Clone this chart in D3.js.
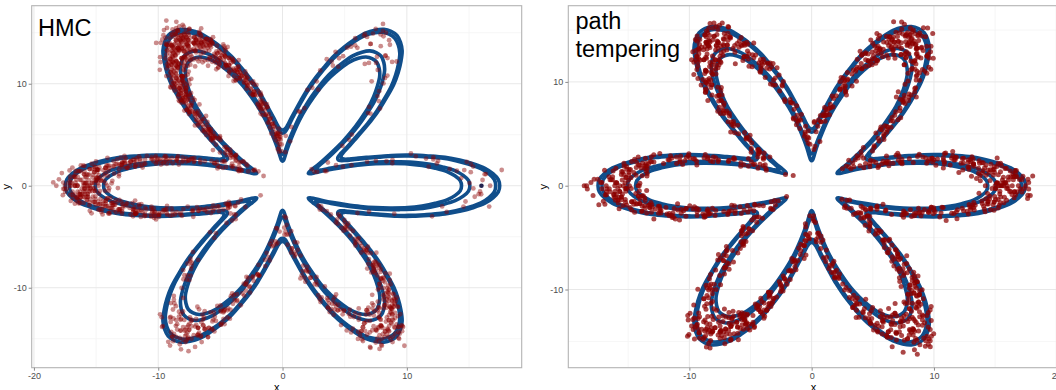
<!DOCTYPE html>
<html>
<head>
<meta charset="utf-8">
<script src="https://cdn.jsdelivr.net/npm/d3@7"></script>
<style>
html,body{margin:0;padding:0;background:#fff;}
svg{display:block;}
text{font-family:"Liberation Sans",Arial,Helvetica,sans-serif;}
</style>
</head>
<body>
<svg id="chart" width="1056" height="390"></svg>
<script>
// ================= DATA =================
const xTicks = [-20, -10, 0, 10, 20];
const yTicks = [-10, 0, 10];
const xMinor = [-25, -15, -5, 5, 15, 25];
const yMinor = [-15, -5, 5, 15];
const panelTitles = [["HMC"], ["path", "tempering"]];

// flower target: six petals, ridge radius read along each petal (angle from petal axis, degrees)
const petalAxes = [0, 60, 120, 180, 240, 300];
const profileAngle = [-30,-28,-26,-24,-22,-20,-18,-16,-14,-12,-10,-8,-6,-4,-2,0,2,4,6,8,10,12,14,16,18,20,22,24,26,28,30];
const profileRadius = [4,4.1,4.5,5.2,6,7,8.2,9.4,10.6,11.9,13,14,14.9,15.5,15.9,16,15.9,15.5,14.9,14,13,11.9,10.6,9.4,8.2,7,6,5.2,4.5,4.1,4];
// contour levels: radial distance from ridge
const contourOffsets = [-1.6, -0.93, 1.15, 1.47];

// ---- HMC samples: angle from petal axis (deg) per petal; radial offset from ridge (tenths) ----
const hmcUL = [
-2,5,-8,1,11,-14,7,-4,17,-10,3,-6,23,0,9,-18,2,-12,14,-1,
6,-21,4,-3,13,-9,20,-5,8,-15,10,-27,1,-7,16,5,-11,25,-2,12,
-16,3,-8,19,0,-13,7,-4,22,-19,2,11,-6,15,-24,4,-1,9,-10,28,
1,-5,13,-17,6,-2,18,-11,3,-7,10,-22,0,14,-9,5,-26,8,-3,21,
-12,2,-6,16,-14,4,-1,11,-20,7,-4,24,-8,1,17,-15,9,-2,12,-29,
3,-10,6,19,-5,0,14,-18,8,-3,26,-13,2,-7,10,-23,5,-1,15,-9,
20,-4,7,-16,1,12,-11,4,-25,9,-6,17,-2,3,-19,13,-8,0,22,-14,
6,-3,11,-21,2,-7,16,-12,5,-1,27,-10,8,-5,14,-17,1,9,-28,4,
-6,18,-13,3,0,12,-9,7,-24,15,-2,5,-16,10,-4,21,-11,2,-8,13,
-20,6,-1,17,-15,4,-7,9,-27,1,11,-3,19,-12,8,-5,24,-18,3,-10,
14,0,-22,7,-6,16,-9,2,-14,10,-2,25,-17,5,-4,12,-26,8,1,-11,
18,-7,3,-13,6,20,-1,-19,9,-5,15,-10,4,28,-3,11,-16,0,7,-23,
2,-8,13,-4,17,-12,5,-20,10,-1,22,-15,6,-6,14,-9,1,26,-25,3,
-2,9,-17,12,-5,4,-11,19,-7,0,15,-21,8,-3,11,-14,23,-8,2,5,
-13,16,-1,7,-28,10,-6,3,-18,13,-9,21,-4,1,-15,6,-10,18,-2,27,
4,-12,8,-24,14,-3,0,-16,11,-7,20,-19,5,-5,17,-11,2,-1,9,-26,
1,-6,9,-13,4,15,-2,7,-19,11,-8,2,21,-4,12,-16,5,-1,18,-10,
0,8,-5,13,-22,3,-9,16,-3,6,-14,10,-27,1,19,-7,4,-12,24,-1,
7,-17,2,12,-6,-20,9,-2,14,-11,5,27,-4,0,-15,11,-8,3,17,-25,
-3,10,-13,6,20,-1,4,-18,8,-7,15,-10,1,23,-5,12,-21,2,-9,5,
16,-14,3,-2,9,-26,13,-6,0,19,-12,7,-4,11,-17,1,25,-8,6,-3,
-11,14,-1,4,-19,8,22,-5,2,-9,12,-15,0,17,-24,6,-2,10,-7,28,
3,-13,7,-4,15,-20,1,11,-6,-28,9,-1,18,-10,5,-16,13,-3,21,-8,
0,6,-12,16,-5,2,-22,10,-2,14,-9,4,26,-14,8,-1,-18,12,-6,3,
19,-4,1,-11,9,-23,6,15,-7,0,-16,11,-3,20,-9,3,-26,13,-1,7,
-8,17,-13,2,10,-5,24,-19,5,-2,12,-10,0,16,-15,8,-4,22,-12,1,
-6,9,-21,14,-1,4,-17,11,-9,27,-3,6,-13,1,18,-7,13,-25,3,-2,
8,-11,20,-4,0,-14,15,-8,5,-19,10,-1,23,-6,2,-12,17,-3,7,-28,
12,-9,3,-16,6,21,-2,-7,14,-22,1,9,-5,16,-13,4,-1,25,-10,11,
-4,2,-18,13,-7,7,19,-12,0,-24,10,-3,15,-9,5,-15,22,-1,8,-6,
17,-20,4,-2,11,-11,1,26,-8,6,-14,13,-5,3,-27,9,-1,20,-16,0,
5,-7,14,-12,2,18,-4,-21,10,-9,7,-1,24,-15,3,-6,12,-19,1,16];
const hmcL = [
0,-4,6,-9,2,11,-6,8,-1,14,-12,4,-3,17,-15,7,-7,1,10,-19,
3,-2,13,-10,5,-22,9,-5,20,0,-13,6,-8,16,2,-17,12,-1,24,-4,
8,-11,1,-25,15,-6,4,-14,10,-3,19,-9,7,-20,0,13,-2,5,-16,22,
-7,11,-1,3,-12,18,-5,9,-27,6,-10,2,15,-18,4,-4,26,-8,12,-14,
1,-3,7,-21,14,-6,0,10,-11,5,-2,21,-15,8,-9,17,-24,3,-1,11,
-5,13,-17,6,-7,2,19,-12,9,-4,28,-10,4,-19,15,-2,7,-13,0,23,
-8,3,12,-23,5,-1,16,-9,10,-14,1,-6,20,-16,8,-3,14,-28,6,-11,
2,18,-5,11,-20,4,-7,9,-2,25,-13,7,-10,0,16,-18,3,-4,12,-26,
6,-8,14,-1,5,-15,10,-3,22,-11,1,-6,17,-21,8,-2,13,-9,4,27,
-12,0,9,-5,19,-17,3,-7,11,-24,6,-1,15,-10,2,-14,21,-4,7,-19,
13,-3,1,-9,24,-13,5,-6,16,0,-16,8,-2,10,-22,4,-8,18,-11,2,
-1,12,-27,6,-4,20,-7,3,-12,9,-18,14,-5,1,26,-10,7,-15,11,-3,
1,-7,4,-2,13,-11,8,-5,16,0,-14,10,-3,6,-19,2,21,-9,11,-1,
-16,5,-4,18,-8,3,-24,12,0,-12,7,-6,23,-2,9,-18,14,1,-10,26,
4,-1,-21,15,-5,8,-13,2,19,-7,0,11,-27,6,-3,14,-15,3,-9,20,
-2,10,-17,5,24,-6,1,-11,13,-4,7,-22,16,0,-8,3,-14,9,-1,28,
12,-5,2,-19,6,-10,17,-3,9,-25,1,14,-7,4,-13,22,-1,7,-16,11,
-4,0,15,-9,3,-20,8,-2,25,-12,5,-6,18,-15,10,-1,2,-23,13,-8,
6,-3,20,-11,1,-17,12,-5,7,0,-26,16,-8,4,-2,11,-14,3,21,-6,
9,-13,0,17,-4,2,-21,14,-9,5,-1,27,-16,8,-7,12,-3,1,-19,10,
-5,15,-10,3,-28,7,19,-2,6,-14,11,-6,0,23,-12,4,-1,16,-22,8,
2,-8,13,-18,5,-3,10,-11,22,-1,7,-24,15,-5,1,-15,9,-2,18,-9,
0,11,-20,4,-6,14,-13,6,-1,26,-10,3,-17,12,-4,8,-26,2,20,-7];
const hmcLL = [
2,6,-1,9,4,0,12,-4,7,3,15,-8,5,10,-2,1,18,-12,8,11,
-5,4,14,0,6,-16,9,2,21,-3,7,13,-9,3,1,17,-20,5,10,-1,
8,24,-6,2,12,-14,6,0,16,-24,4,9,-2,27,11,-7,3,14,-11,5,
1,19,-4,7,-18,10,0,22,-10,6,13,-27,3,8,-3,15,2,-13,11,5,
-8,20,4,-1,9,-22,12,6,-15,1,17,3,-5,7,25,-19,10,0,13,2,
-6,8,4,-2,11,16,5,-9,23,1,
3,7,-2,10,1,5,13,-5,8,0,16,-9,4,11,-3,2,19,-13,6,9,
-6,3,15,-1,7,-17,10,1,22,-4,5,12,-10,2,26,-21,8,0,14,-7,
4,18,-3,9,-12,1,6,23,-15,11,-1,3,17,-25,7,2,-8,13,0,20,
5,-11,10,-2,15,-19,8,1,24,-5,12,3,-14,6,-1,9,21,-23,4,2];
const hmcLR = [
1,-3,5,8,-1,3,11,-6,6,0,14,-9,4,9,-12,2,17,-4,7,-15,
12,0,-2,20,5,-18,10,3,-7,15,-21,8,1,23,-10,6,-5,13,-24,4,
9,-1,18,-13,2,7,-8,26,0,11,-16,5,-3,16,-27,3,10,-6,21,1,
-11,6,14,-2,8,-19,4,12,-4,24,-14,2,9,-9,19,0,-22,7,15,-1,
5,-7,11,3,-17,22,-3,8,-12,1,13,6,-25,17,-5,10,2,-10,27,4,
-20,9,0,15,-8,6,-15,12,3,-2,20,-28,7,1,-13,18,-6,11,5,-23,
14,-1,8,-11,2,25,-4,10,-18,4,16,-9,0,13,-26,6,-3,19,9,-14,
3,-7,12,1,-21,7,22,-5,5,-16,11,0,-10,17,2,-2,28,-12,8,-19,
2,-4,6,9,-2,4,12,-7,5,1,15,-10,3,8,-13,0,18,-5,10,-16,
7,-1,-3,21,4,-19,11,2,-8,14,-22,6,0,24,-11,9,-6,16,-25,3,
10,-2,19,-14,1,8,-9,27,-1,12,-17,4,-4,17,-28,5,11,-7,22,0,
-12,7,13,-3,9,-20,3,15,-5,25,-15,1,10,-10,20,-1,-23,6,16,2,
4,-8,12,1,-18,23,-2,7,-13,0,14,5,-26,18,-6,11,3,-9,26,-4,
-21,8,-1,14,-7,5,-16,13,2,-3,19,-27,6,0,-12,17,-5,10,4,-24,
15,0,9,-10,3,24,-6,11,-19,5,17,-8,1,14,-2,7,-15,20,8,-11];
const hmcUR = [
2,-3,5,0,-6,8,-1,4,-9,11,1,-4,7,-12,14,3,-7,17,-15,6,
-2,20,-18,9,0,12,-10,23,-5,15,-21,2,26,-13,8,-8,10,-25,4,19,
-1,13,-16,6,16,-11,3,22,-20,1,-28,9,18,-3,27,
3,-4,6,-8,12,1,-2,15,-14,9];
const hmcR = [
3,7,-2,10,5,1,12,-4,8,14,0,6,17,-1,11,20,4,-6,9,23,
2,15,-9,13,26,-14,18,-20,7,-3,22,-11,16,-24,5,28,-17,19,-7,25,
4,9,-3,13,6,16,-8,21];
const hmcOffset = [
3,-7,11,-2,5,-12,8,-1,15,-9,0,6,-16,3,-5,19,-2,9,-10,4,
-4,13,-14,1,7,-8,22,-6,0,10,-18,5,-3,12,-11,2,8,-21,6,-2,
1,-9,14,-5,4,-13,7,0,-7,17,-3,9,-15,2,-1,11,-20,6,-4,25,
-6,3,10,-11,0,8,-2,16,-8,5,-14,1,12,-5,7,-24,4,-1,9,-17,
2,-10,6,13,-3,0,-7,18,-12,4,1,-5,10,-16,7,-2,21,-9,3,0,
-13,8,-4,14,-1,5,-19,2,11,-6,0,9,-11,3,-26,6,-3,15,-8,1,
12,-2,4,-15,7,-5,20,-10,1,8,-4,3,-18,10,-1,5,-7,27,-12,2,
-3,6,-9,13,0,-14,4,9,-6,1,17,-20,5,-2,11,-8,2,-11,7,-1,
15,-4,0,8,-17,3,-6,12,-3,6,-22,10,1,-9,4,14,-13,0,-5,19,
-7,2,9,-12,5,-1,23,-8,3,-15,7,0,-4,11,-10,6,-28,13,-2,4,
8,-6,1,-11,16,-3,5,-19,2,10,-7,0,14,-14,3,-2,7,-9,21,-5,
0,12,-8,4,-16,6,-1,9,-12,2,18,-4,5,-23,11,-6,1,8,-10,3,
-2,15,-13,7,0,-5,10,-18,4,-3,13,-8,24,-1,6,-11,2,9,-15,5,
-9,1,17,-6,3,-20,8,-2,12,-12,0,6,-4,20,-7,4,-17,11,-1,2,
7,-14,5,-3,10,-9,1,16,-5,3,-25,9,-10,0,13,-6,6,-13,2,-1,
18,-8,4,-16,11,-2,7,-21,0,5,-11,14,-4,2,-7,22,-12,8,-3,1,
-5,9,-18,3,12,-1,6,-10,15,-6,0,-14,8,4,-27,10,-2,17,-9,5,
-1,2,-13,20,-4,7,-8,11,-19,1,6,-3,13,-11,3,-6,9,0,-16,14,
4,-10,0,7,-22,12,-2,5,-7,18,-13,2,-4,10,-1,26,-15,6,-9,3,
-12,8,1,-5,14,-17,4,0,9,-8,3,-20,11,-3,6,-10,16,-1,2,-6,
10,-4,19,-11,1,-7,5,13,-14,7,-2,0,-18,12,3,-9,8,-24,4,-1,
6,-15,2,11,-5,9,-12,0,21,-3,5,-8,14,-19,1,-6,10,-2,7,-13,
3,0,-10,16,-4,8,-23,2,12,-7,4,-1,9,-16,6,-11,1,18,-5,13,
-8,5,-2,10,-14,0,7,-20,3,15,-9,2,-4,22,-12,6,-1,11,-17,4,
0,-6,13,-3,8,-11,1,17,-15,5,-2,9,-25,3,12,-8,6,-4,14,-10,
2,20,-7,4,-13,10,-1,6,-19,0,11,-5,3,-9,16,-14,7,-3,24,-6,
5,-12,1,9,-4,13,-17,2,-8,7,0,-21,10,-2,4,-11,15,-6,1,18,
-9,3,-15,6,12,-1,8,-5,19,-13,2,-3,11,-22,5,0,-7,14,-10,4,
1,-16,7,-2,10,-8,23,-4,3,-12,6,0,-18,13,-6,2,9,-14,5,-1,
16,-10,4,-5,8,-20,1,12,-3,6,-9,0,15,-15,3,-7,11,-2,20,-11,
6,-1,-13,9,2,-6,14,-18,0,5,-4,10,-26,7,-2,13,-8,3,-12,17,
-3,8,0,-9,12,-15,4,1,-6,21,-11,6,-1,9,-17,2,14,-5,7,-24,
11,-7,3,-2,16,-12,5,-4,10,0,-19,8,-8,1,13,-14,4,-3,18,-6,
2,-11,9,-1,6,-22,12,0,-5,7,-9,15,-2,3,-16,10,-7,25,-4,1,
-13,5,14,-3,0,-8,11,-20,4,2,-6,17,-10,7,-1,9,-15,3,12,-5,
8,-2,-17,6,1,13,-9,4,-12,19,-4,0,10,-7,5,-23,2,15,-11,3,
-1,10,-6,2,-14,7,22,-5,0,-10,12,-3,6,-18,1,16,-8,4,-2,9,
-16,3,11,-4,7,-12,0,14,-7,5,-21,8,2,-1,18,-13,4,-6,10,-9,
1,20,-3,6,-11,0,9,-15,3,13,-5,7,-24,2,-2,11,-8,5,16,-12,
4,-6,0,12,-19,8,-1,5,-9,15,-14,3,1,-4,10,-27,6,-2,13,-7,
7,-10,2,17,-5,4,-13,11,-1,0,-8,21,-16,6,3,-3,9,-11,14,0,
-2,5,-20,8,1,-7,12,-4,18,-12,4,-1,7,-15,10,2,-9,23,-6,3,
13,-8,0,-3,9,-17,6,1,-11,15,-5,2,-22,8,-1,11,-13,4,19,-4,
-6,2,10,-14,5,-2,16,-9,3,-18,7,0,12,-7,4,-1,-25,9,-3,14,
0,-12,6,3,-5,11,-10,20,-2,7,-15,1,8,-6,13,-19,2,-4,17,-8,
5,-1,-11,9,2,14,-16,4,-3,10,-7,0,22,-13,6,-2,8,-20,1,12,
-4,7,-9,3,15,-14,1,-6,11,-1,5,-17,9,0,-10,18,-3,6,-21,2,
4,-9,1,12,-6,0,17,-3,8,-14,5,-1,10,-19,3,7,-5,22,-11,2,
-1,13,-8,6,-17,0,9,-4,15,-12,2,-7,19,-2,5,-24,11,1,-10,7,
3,-5,14,-15,0,8,-2,21,-9,4,-13,1,11,-6,26,-1,6,-18,9,-3,
12,-7,2,-11,16,-4,0,-20,7,5,-1,13,-14,3,-8,18,-2,10,-16,1,
-5,8,-12,20,2,-3,11,-9,0,14,-22,6,-6,4,17,-13,1,-27,9,3,
-2,15,-10,5,-1,12,-17,7,3,-8,23,-4,0,10,-15,2,-6,16,-11,6,
1,-14,9,-3,19,-7,4,0,-12,13,-1,6,-21,11,-5,2,14,-9,25,-4,
7,-2,-16,10,3,-10,18,-6,1,8,-13,0,5,-24,12,-3,9,-8,16,-1,
-11,4,13,-5,0,21,-18,6,-2,11,-7,2,-15,15,3,-9,8,-1,20,-12,
5,-6,1,16,-20,9,-3,12,-10,0,7,-14,4,23,-5,1,-17,10,-2,13,
-8,3,-13,8,18,-1,5,-11,14,-4,0,-22,10,2,-6,17,-15,6,-3,9,
11,-9,2,-5,15,-16,4,0,-10,24,-2,7,-19,12,-7,3,1,-13,19,-1,
6,-12,0,10,-4,14,-25,5,8,-8,2,-2,16,-17,9,-5,13,0,-11,4,
-3,20,-9,1,12,-14,7,-6,3,-21,15,0,-4,9,-1,27,-12,6,-7,11,
2,-16,8,4,-10,17,-2,-5,13,-19,1,10,-8,5,22,-13,0,-3,14,-6,
9,-1,-15,6,11,-7,3,-23,16,0,-11,8,-4,18,-9,2,12,-14,5,-2,
-6,13,1,-12,7,-3,20,-18,4,10,-1,-8,15,-5,2,-26,11,3,-10,17,
0,-4,9,-13,19,-2,6,-9,12,1,-16,14,-6,3,-20,8,-1,24,-7,5,
13,-10,4,-1,8,-15,2,16,-5,0,11,-22,7,-3,17,-12,1,9,-8,-17,
3,10,-6,-1,21,-11,5,-4,14,-18,0,7,-9,12,-2,4,-25,15,-13,1,
-7,6,18,-3,2,-14,9,-8,0,13,-20,5,-1,11,-6,16,-10,3,23,-4,
8,-12,1,-5,15,-2,6,-17,10,0,-9,19,-13,3,-3,12,-22,7,2,-7,
14,-1,-10,5,9,-19,3,0,-6,17,-14,8,-2,22,-8,1,11,-16,4,-3,
-12,7,2,-9,13,-4,25,-11,0,6,-15,10,-1,4,-21,16,-5,8,-2,12,
1,-18,11,-6,3,-2,19,-13,7,-8,0,15,-10,5,27,-3,9,-14,2,-1,
-4,14,-7,9,-23,1,12,-3,6,-12,18,-5,0,10,-16,3,-9,21,-1,7,
5,-11,16,-2,-19,8,2,-7,13,-1,4,-15,11,0,-26,9,-4,17,-8,3,
10,-3,1,-12,20,-6,7,-1,-17,14,3,-9,24,-5,6,-13,0,12,-20,2,
-2,9,-14,4,0,16,-8,11,-22,5,-1,13,-6,2,-11,19,-15,8,1,-5,
15,-9,3,-4,10,-18,6,0,-13,12,-2,22,-7,4,-25,9,1,-10,17,-1,
-6,2,13,-16,7,-3,0,19,-10,5,-20,11,-1,8,-5,15,-12,3,26,-8,
4,-13,9,-1,14,-7,1,-24,12,-4,6,17,-11,0,-3,10,-16,5,20,-9,
-1,11,-19,6,2,-8,18,-14,3,-2,13,-5,9,-21,1,7,-12,16,-6,0,
12,-4,5,-15,23,-1,8,-10,0,14,-17,4,-7,10,-2,19,-9,2,-27,6,
-3,9,-12,1,16,-6,3,-20,11,-2,7,-14,15,-1,5,-8,21,-16,0,8,
2,-10,14,-5,6,-1,-18,12,-3,9,-23,4,17,-7,1,-13,10,0,-4,25,
-9,5,0,13,-15,7,-2,20,-6,3,-11,8,-1,15,-19,2,11,-5,6,-14,
18,-3,4,-9,1,-22,10,-7,14,0,-12,6,-4,23,-1,9,-16,3,12,-8,
-2,7,-13,17,-5,1,-10,11,2,-19,14,-6,5,0,-8,21,-3,9,-15,4];
// one sample drawn in a dark colour on the right petal (angle, offset)
const hmcMarker = [[0, 0]];

// ---- path tempering samples ----
const ptR = [
1,-5,8,-2,12,-10,4,-7,16,0,-14,6,-3,20,-18,9,-1,11,-23,3,
-8,14,2,-12,7,-4,25,-16,5,0,10,-20,3,-6,18,-9,13,-27,6,-1,
22,-11,4,-15,9,1,-3,17,-21,7,-7,12,0,-13,28,2,-5,15,-17,10,
-2,5,-24,19,-9,3,11,-6,1,-19,14,-1,8,-11,23,-4,6,-14,16,-26,
0,10,-8,2,21,-12,5,-3,13,-16,7,-22,4,-7,26,-1,9,-10,18,-5,
3,-18,12,-2,15,-13,1,6,-25,8,-6,20,-9,4,11,-15,0,17,-20,2,
-4,24,-11,7,-1,14,-28,5,-8,10,-17,3,19,-3,9,-12,1,22,-6,13,
-14,6,-2,27,-19,4,8,-7,0,16,
2,-6,9,-3,13,-11,5,-8,17,-1,-15,7,-4,21,-19,10,0,12,-24,4,
-9,15,3,-13,8,-5,26,-17,6,1,11,-21,2,-7,19,-10,14,-26,5,-2,
23,-12,3,-16,10,0,-4,18,-22,8,-6,13,1,-14,27,3,-1,16,-18,9,
-3,6,-23,20,-8,2,12,-5,0,-20,15,-2,7,-12,24,-3,5,-15,17,-27,
1,11,-9,3,22,-11,6,-2,14,-17,8,-21,5,-6,25,0,10,-9,19,-4,
4,-19,13,-1,16,-14,2,7,-25,9,-7,20,-10,3,12,-16,1,18,-28,0];
const ptUR = [
-1,6,-9,3,13,-5,0,10,-15,7,-3,18,-12,2,-7,22,-19,5,11,-2,
15,-24,8,-6,1,-11,20,-4,4,-16,12,-1,26,-9,6,-21,9,-3,17,0,
-13,3,-28,14,-7,7,-2,23,-17,1,10,-10,5,-5,19,-14,2,12,-25,8,
-1,16,-8,4,-20,11,0,-4,25,-11,6,-15,13,-2,3,-18,21,-6,9,-27,
1,14,-10,5,-3,18,-13,7,-22,2,10,-7,27,-1,4,-16,15,-5,8,-19,
0,20,-12,3,-9,12,-26,6,-2,17,-14,9,-4,24,-8,1,-21,11,5,-6,
16,-17,2,-1,13,-11,7,-23,4,21,-3,8,-15,0,11,-9,3,28,-5,14,
-20,6,-7,1,19,-12,9,-2,5,-29,
0,7,-8,4,12,-4,1,11,-16,6,-2,19,-13,3,-6,21,-18,4,10,-1,
16,-23,9,-5,2,-12,19,-3,5,-15,13,0,25,-8,7,-20,8,-2,18,-1,
-14,4,-27,15,-6,8,-1,22,-16,2,11,-9,6,-4,20,-13,1,13,-24,9,
0,17,-7,5,-19,10,-1,-3,26,-10,7,-14,12,-1,4,-17,22,-5,10,-26,
2,15,-11,6,-2,17,-12,8,-21,3,9,-6,28,0,5,-15,14,-4,7,-18,
1,21,-11,4,-8,13,-25,7,-1,16,-13,10,-3,23,-9,2,-22,12,6,-5];
const ptUL = [
2,-4,7,-10,0,14,-6,4,-17,11,-1,20,-13,5,-3,9,-22,16,-8,1,
-15,6,25,-2,12,-11,3,-7,18,-26,8,-5,13,0,-19,10,-1,22,-9,4,
-3,15,-14,1,7,-24,11,-6,5,28,-12,2,-8,17,-18,9,-2,3,21,-10,
6,-16,0,13,-5,24,-20,8,-1,10,-13,4,-27,16,-7,1,19,-4,12,-11,
5,-21,2,26,-9,14,-3,7,-15,0,11,-6,20,-17,3,-1,8,-25,15,-8,
9,-2,18,-12,4,-5,23,-10,1,12,-19,6,-4,16,-14,2,10,-28,7,-7,
13,0,-16,21,-3,5,-11,17,-1,8,-23,3,14,-9,27,-6,1,-13,11,-2,
6,-18,19,-5,2,9,-20,15,-8,4,
3,-3,8,-9,1,13,-5,5,-16,12,0,19,-12,6,-2,10,-21,15,-7,2,
-14,7,24,-1,11,-10,4,-6,17,-25,9,-4,14,-1,-18,11,0,21,-8,5,
-2,16,-13,2,6,-23,12,-5,4,27,-11,3,-7,18,-17,8,-1,4,22,-9,
7,-15,1,12,-4,25,-19,9,0,9,-12,5,-26,17,-6,2,20,-3,13,-10,
4,-20,3,27,-8,13,-2,8,-14,1,10,-5,21,-16,2,0,7,-24,16,-7,
10,-1,17,-11,5,-4,22,-9,2,11,-18,7,-3,15,-13,3,9,-27,6,-6];
const ptL = [
-3,5,-8,1,12,-12,6,-1,17,-16,3,9,-5,21,-20,0,14,-9,7,-25,
2,11,-4,19,-14,4,-7,25,-2,8,-18,13,0,-11,16,-6,1,23,-22,10,
-1,6,-15,28,-8,3,15,-3,9,-27,12,-10,5,18,-13,2,-5,20,-17,7,
0,-6,14,-19,4,10,-2,26,-12,1,7,-9,17,-24,5,-4,13,-15,22,-1,
8,-11,3,-21,16,-7,11,0,-14,24,-3,6,-18,2,19,-8,9,-28,4,15,
-5,12,-16,1,21,-10,7,-2,14,-20,5,-13,27,-6,3,10,-23,8,-1,18,
-9,2,16,-17,6,-4,11,-26,0,13,-7,20,-12,4,-2,9,-19,25,-15,5,
1,-10,17,-5,7,-22,12,-1,3,-8,
-2,4,-7,2,11,-11,7,0,16,-15,4,8,-4,20,-19,1,13,-8,6,-24,
3,10,-3,18,-13,5,-6,24,-1,9,-17,12,1,-10,15,-5,2,22,-21,11,
0,7,-14,27,-7,4,14,-2,10,-26,13,-9,6,17,-12,3,-4,19,-16,8,
1,-5,15,-18,5,9,-1,25,-11,2,8,-8,16,-23,6,-3,12,-14,21,0,
9,-10,4,-20,17,-6,12,1,-13,23,-2,7,-17,3,18,-7,10,-27,5,14,
-4,13,-15,2,20,-9,8,-1,15,-19,6,-12,26,-5,4,11,-22,9,0,19];
const ptLL = [
0,7,-4,11,-9,3,16,-13,5,-1,20,-18,9,-6,2,24,-11,13,-22,6,
-3,14,-15,1,8,-26,18,-7,4,10,-2,22,-12,6,-19,12,-5,27,-9,2,
15,-16,5,-1,19,-23,9,-4,3,-10,13,-28,7,0,17,-14,11,-6,25,-2,
4,-12,8,-20,1,21,-8,14,-3,6,-17,10,-25,3,16,-5,12,-11,2,-1,
18,-7,9,-15,26,-3,5,-21,11,0,-9,15,-13,7,1,-18,23,-6,4,-27,
10,-2,13,-10,2,20,-16,6,-4,17,-8,8,-24,3,12,-14,28,-1,5,-11,
14,-19,7,-5,1,22,-12,9,-3,16,-21,4,-7,11,-15,0,19,-9,6,-26,
3,13,-6,8,-17,2,24,-10,10,-1,
1,8,-3,12,-8,4,17,-12,6,0,21,-17,10,-5,3,25,-10,14,-21,7,
-2,15,-14,2,9,-25,19,-6,5,11,-1,23,-11,7,-18,13,-4,26,-8,3,
16,-15,6,0,20,-22,10,-3,4,-9,14,-27,8,1,18,-13,12,-5,24,-1,
5,-11,9,-19,2,22,-7,15,-2,7,-16,11,-24,4,17,-4,13,-10,3,0,
19,-6,10,-14,27,-2,6,-20,12,1,-8,16,-12,8,2,-17,24,-5,5,-26,
11,-1,14,-9,3,21,-15,7,-3,18,-7,9,-23,4,13,-13,28,0,6,-10];
const ptLR = [
2,-6,9,-1,14,-11,5,-4,19,-15,0,7,-20,11,-8,3,24,-13,6,-2,
16,-23,1,10,-5,21,-17,4,-9,13,-28,8,-3,18,-12,2,26,-7,12,0,
-14,5,-1,15,-19,9,-6,22,-10,3,11,-25,7,-2,17,-16,1,13,-8,6,
20,-4,10,-21,4,-12,27,-3,8,-7,14,-18,0,12,-1,5,-27,16,-10,9,
-5,23,-14,2,11,-9,18,-2,6,-22,15,-6,3,25,-13,1,-11,9,-17,20,
4,-1,12,-24,7,-8,17,-15,0,14,-4,10,-19,2,21,-11,8,-3,28,-7,
5,-16,13,-2,19,-26,3,-10,11,6,-20,16,-5,1,22,-13,9,-6,15,-1,
-18,7,24,-9,4,-14,12,0,-4,18,
3,-5,10,0,15,-10,6,-3,20,-14,1,8,-19,12,-7,4,25,-12,7,-1,
17,-22,2,11,-4,22,-16,5,-8,14,-27,9,-2,19,-11,3,27,-6,13,1,
-13,6,0,16,-18,10,-5,23,-9,4,12,-24,8,-1,18,-15,2,14,-7,7,
21,-3,11,-20,5,-11,26,-2,9,-6,15,-17,1,13,0,6,-26,17,-9,10,
-4,24,-13,3,12,-8,19,-1,7,-21,16,-5,4,26,-12,2,-10,10,-16,21,
5,0,13,-23,8,-7,18,-14,1,15,-3,11,-18,3,22,-10,9,-2,28,-6];
const ptOffset = [
-2,8,-11,4,0,14,-6,1,-17,9,3,-4,20,-9,6,-1,11,-14,2,24,
-7,5,-3,12,-20,0,7,-10,16,-5,2,-13,9,1,-25,13,-2,6,-8,18,
3,-15,10,-1,4,-7,22,-11,0,8,-4,15,-18,5,-2,11,-9,2,27,-6,
7,-12,1,17,-3,6,-21,9,-1,13,-8,0,4,-16,19,-5,10,-2,3,-13,
15,-4,-10,6,1,-19,11,-3,8,0,-7,21,-12,5,-1,14,-26,2,9,-6,
0,12,-8,3,-14,7,18,-2,5,-10,1,-5,16,-17,8,-1,4,-22,10,2,
-9,25,-3,6,-12,0,9,-6,14,-15,3,11,-1,-20,7,2,-8,17,-4,5,
-11,1,13,-7,4,-24,8,0,-3,19,-13,6,-1,10,-16,2,15,-5,7,-9,
3,-2,22,-14,5,9,-6,1,-18,12,-4,0,8,-10,16,-1,4,-27,11,-3,
6,-8,18,-11,2,-5,13,0,-15,7,1,-19,10,-2,24,-7,3,-12,5,14,
-4,9,-1,-16,11,4,-9,20,-3,6,-13,0,15,-6,2,-21,8,1,-10,17,
2,-5,12,-17,0,7,-2,23,-12,4,-8,10,-1,16,-14,5,-28,9,-3,1,
-6,14,3,-9,19,-4,0,8,-18,11,-2,6,-11,1,26,-7,13,-15,4,-1,
10,-3,5,-22,7,15,-8,2,-13,0,18,-5,9,-1,-17,12,3,-10,21,-6,
1,-12,8,4,-4,16,-20,6,0,-9,13,-2,3,-15,10,24,-7,5,-1,-11,
14,-3,7,-25,2,11,-6,0,19,-14,4,-1,9,-8,17,-18,1,6,-4,12,
-10,3,22,-5,0,8,-16,13,-2,5,-12,1,16,-7,10,-23,4,-1,15,-9,
6,-4,0,11,-19,2,9,-11,20,-3,7,-6,14,-15,1,4,-2,27,-13,8,
-1,12,-8,3,18,-21,5,0,-5,10,-14,2,7,-10,23,-3,15,-17,6,1,
-7,9,-2,16,-12,4,-26,11,0,-4,13,-9,6,1,-18,19,-1,8,-6,3,
14,-15,2,-3,10,5,-11,21,-7,0,7,-20,12,-1,4,-8,17,-13,3,-5,
9,-2,-16,13,1,-10,6,24,-4,8,-14,0,11,-6,3,-22,16,-1,5,-9,
2,18,-12,7,-3,0,12,-18,4,-7,15,-1,9,-25,6,1,-11,20,-5,10,
-2,5,-13,3,17,-8,0,10,-16,13,-4,2,-9,22,-1,7,-19,4,11,-6,
0,-10,14,-3,6,-23,9,1,-7,19,-12,4,-1,12,-15,3,8,-5,26,-11,
5,-1,10,-17,2,15,-6,0,-13,7,3,-9,20,-4,11,-20,1,6,-2,13,
-8,4,-14,9,0,23,-5,12,-11,2,-3,16,-18,6,1,-7,10,-27,8,-1,
3,-12,17,-4,7,-9,1,13,-21,5,0,-6,11,-15,19,-2,4,-10,14,2,
-16,8,-1,6,-8,21,-13,3,10,-4,0,-19,15,-7,5,1,-11,24,-3,9,
12,-5,2,-14,7,0,-9,18,-2,11,-17,4,6,-1,-22,13,-6,3,16,-10,
1,6,-12,20,-3,9,-7,0,14,-16,5,-2,10,-24,2,8,-5,17,-9,4,
-1,13,-18,3,11,-6,1,-10,22,-4,7,-13,0,15,-8,5,-20,9,2,-3,
18,-11,6,0,-15,10,-2,4,-7,25,-12,1,8,-5,13,-19,3,-1,11,-9,
7,-4,16,-21,2,9,-1,-13,5,14,-8,0,19,-17,4,-3,10,-6,1,-26,
12,0,-9,6,-2,21,-14,3,8,-11,15,-5,1,-18,10,-1,5,-7,23,-12,
2,-6,9,-16,13,-3,0,7,-20,4,17,-10,1,-2,11,-8,6,-23,14,-4,
-13,5,19,-1,3,-9,10,-15,0,8,-5,24,-11,2,-7,13,-3,6,-18,16,
1,-12,7,4,-22,11,-2,15,-6,0,9,-14,3,20,-8,5,-1,-17,12,-4,
6,-10,2,17,-13,0,8,-5,14,-19,3,-1,11,-25,7,-7,18,1,-11,4,
-3,21,-9,5,0,-15,12,-2,6,-12,16,-6,2,-21,9,1,-4,13,-16,8,
0,-8,15,-1,10,-18,4,3,-11,19,-5,7,-2,12,-14,1,26,-7,5,-10,
11,-3,-17,8,2,-6,14,0,-12,6,-24,9,-1,17,-9,3,10,-15,4,-2,
7,-13,1,20,-5,12,-8,4,-20,0,13,-3,6,-10,2,22,-16,9,-1,15,
-7,3,-11,10,5,-2,18,-14,1,8,-18,0,12,-4,7,-9,16,-1,-23,6,
2,14,-6,-1,9,-16,4,11,-10,0,19,-12,5,-3,13,-7,1,-19,8,3,
-5,10,-21,6,0,15,-9,2,-13,17,-2,7,-8,24,-15,1,11,-4,4,-11,
1,-6,10,-13,3,17,-4,0,-19,7,5,-2,22,-8,4,-11,13,-1,26,-5,
-9,2,15,-16,6,-1,9,-12,0,19,-7,4,-22,11,-3,8,-14,1,12,-4,
5,-17,8,2,-10,14,-1,24,-6,3,-13,10,-20,0,16,-8,7,-3,21,-11,
-2,11,-9,6,20,-15,1,-5,12,-24,4,9,-1,17,-12,3,-7,14,-18,2,
8,-3,13,-20,0,6,-11,19,-4,2,-16,10,-1,25,-9,5,1,-14,11,-6,
-12,4,18,-2,7,-8,0,15,-17,9,-5,3,-26,13,-1,6,-10,22,2,-3,
14,-7,1,-15,10,3,-21,8,-2,12,-9,0,17,-13,5,-4,11,-19,4,27,
-5,9,-1,-18,14,2,-8,21,-3,7,-12,0,13,-6,1,-23,9,3,-11,16,
3,-4,11,-16,1,8,-2,24,-13,5,-9,12,-1,18,-15,6,-27,10,-3,0,
-7,15,2,-10,20,-5,1,9,-19,12,-2,7,-12,0,25,-8,14,-14,5,-1,
11,-4,6,-21,8,16,-9,3,-14,1,19,-6,10,-2,-16,13,4,-11,22,-7,
0,-13,9,5,-5,17,-19,7,1,-10,14,-3,4,-16,11,23,-8,6,-1,-12,
15,-2,8,-24,3,12,-7,1,20,-15,5,-1,10,-9,18,-17,2,7,-5,13,
-11,4,21,-6,1,9,-17,14,-3,6,-13,2,17,-8,11,-22,5,0,16,-10,
7,-5,1,12,-20,3,10,-12,19,-2,8,-7,15,-16,2,5,-3,26,-14,9,
-2,13,-9,4,17,-22,6,-1,-6,11,-15,3,8,-11,24,-4,16,-18,7,2,
-8,10,-3,17,-13,5,-25,12,1,-5,14,-10,7,0,-19,20,-2,9,-7,4,
13,-16,3,-4,11,6,-12,22,-8,1,8,-21,13,-2,5,-9,18,-14,4,-6,
10,-3,-17,14,2,-11,7,25,-5,9,-15,1,12,-7,4,-23,17,-2,6,-10,
3,19,-13,8,-4,1,13,-19,5,-8,16,-2,10,-26,7,2,-12,21,-6,11,
-3,6,-14,4,18,-9,1,11,-17,14,-5,3,-10,23,-2,8,-20,5,12,-7,
1,-11,15,-4,7,-24,10,2,-8,20,-13,5,-2,13,-16,4,9,-6,27,-12,
6,-2,11,-18,3,16,-7,1,-14,8,4,-10,21,-5,12,-21,2,7,-3,14,
-9,5,-15,10,1,24,-6,13,-12,3,-4,17,-19,7,2,-8,11,-26,9,0,
4,-13,18,-5,8,-10,2,14,-22,6,1,-7,12,-16,20,-3,5,-11,15,3,
-17,9,0,7,-9,22,-14,4,11,-5,1,-20,16,-8,6,2,-12,25,-4,10,
13,-6,3,-15,8,1,-10,19,-3,12,-18,5,7,-2,-23,14,-7,4,17,-11,
2,7,-13,21,-4,10,-8,1,15,-17,6,-3,11,-25,3,9,-6,18,-10,5,
0,14,-19,4,12,-7,2,-11,23,-5,8,-14,1,16,-9,6,-21,10,3,-4,
19,-12,7,1,-16,11,-3,5,-8,26,-13,2,9,-6,14,-20,4,0,12,-10,
8,-5,17,-22,3,10,-2,-14,6,15,-9,1,20,-18,5,-4,11,-7,2,-27,
13,1,-10,7,-3,22,-15,4,9,-12,16,-6,2,-19,11,-2,6,-8,24,-13,
3,-7,10,-17,14,-4,1,8,-21,5,18,-11,2,-3,12,-9,7,-24,15,-5,
-14,6,20,-2,4,-10,11,-16,1,9,-6,25,-12,3,-8,14,-4,7,-19,17,
2,-13,8,5,-23,12,-3,16,-7,1,10,-15,4,21,-9,6,-2,-18,13,-5];

const hmcPetals = [[120, hmcUL], [180, hmcL], [240, hmcLL], [300, hmcLR], [60, hmcUR], [0, hmcR]];
const ptPetals  = [[0, ptR], [60, ptUR], [120, ptUL], [180, ptL], [240, ptLL], [300, ptLR]];

// ================= DRAWING =================
const svg = d3.select("#chart");
const RAD = Math.PI / 180;
const ridge = d3.scaleLinear().domain(profileAngle).range(profileRadius);

function polarPoint(axis, delta, off) {
  const r = ridge(delta) + off;
  const t = (axis + delta) * RAD;
  return [r * Math.cos(t), r * Math.sin(t)];
}

function buildSamples(petals, offsets) {
  const out = [];
  let k = 0;
  petals.forEach(([axis, deltas]) => {
    deltas.forEach(dl => {
      if (k < offsets.length) out.push(polarPoint(axis, dl, offsets[k] / 10));
      k++;
    });
  });
  return out;
}

function contourRing(off) {
  const pts = [];
  petalAxes.forEach(axis => {
    profileAngle.slice(0, -1).forEach(dl => pts.push(polarPoint(axis, dl, off)));
  });
  return pts;
}

function drawPanel(cfg, id) {
  const g = svg.append("g");
  const x = d3.scaleLinear().domain(cfg.xDomain).range([cfg.left, cfg.right]);
  const y = d3.scaleLinear().domain(cfg.yDomain).range([cfg.bottom, cfg.top]);
  const inX = v => v >= cfg.xDomain[0] && v <= cfg.xDomain[1];
  const inY = v => v >= cfg.yDomain[0] && v <= cfg.yDomain[1];

  g.append("clipPath").attr("id", "clip" + id)
    .append("rect").attr("x", cfg.left).attr("y", cfg.top)
    .attr("width", cfg.right - cfg.left).attr("height", cfg.bottom - cfg.top);

  // grid
  const grid = g.append("g");
  grid.selectAll(".xm").data(xMinor.filter(inX)).join("line")
    .attr("x1", d => x(d)).attr("x2", d => x(d)).attr("y1", cfg.top).attr("y2", cfg.bottom)
    .attr("stroke", "#f4f4f4").attr("stroke-width", 0.8);
  grid.selectAll(".ym").data(yMinor.filter(inY)).join("line")
    .attr("y1", d => y(d)).attr("y2", d => y(d)).attr("x1", cfg.left).attr("x2", cfg.right)
    .attr("stroke", "#f4f4f4").attr("stroke-width", 0.8);
  grid.selectAll(".xM").data(xTicks.filter(inX)).join("line")
    .attr("x1", d => x(d)).attr("x2", d => x(d)).attr("y1", cfg.top).attr("y2", cfg.bottom)
    .attr("stroke", "#e8e8e8").attr("stroke-width", 1);
  grid.selectAll(".yM").data(yTicks.filter(inY)).join("line")
    .attr("y1", d => y(d)).attr("y2", d => y(d)).attr("x1", cfg.left).attr("x2", cfg.right)
    .attr("stroke", "#e8e8e8").attr("stroke-width", 1);

  const plot = g.append("g").attr("clip-path", `url(#clip${id})`);

  // contours
  const line = d3.line().x(p => x(p[0])).y(p => y(p[1])).curve(d3.curveCatmullRomClosed.alpha(0.5));
  plot.selectAll("path.contour").data(contourOffsets.map(contourRing)).join("path")
    .attr("class", "contour")
    .attr("d", line)
    .attr("fill", "none").attr("stroke", "#104E8B").attr("stroke-width", 3.6)
    .attr("stroke-linejoin", "round");

  // samples
  plot.selectAll("circle.s").data(cfg.samples).join("circle")
    .attr("class", "s")
    .attr("cx", p => x(p[0])).attr("cy", p => y(p[1])).attr("r", cfg.radius)
    .attr("fill", "#8B0000").attr("fill-opacity", cfg.alpha);

  if (cfg.marker) {
    plot.selectAll("circle.m").data(cfg.marker).join("circle")
      .attr("class", "m")
      .attr("cx", p => x(p[0])).attr("cy", p => y(p[1])).attr("r", 2.3)
      .attr("fill", "#22224e");
  }

  // border
  g.append("rect").attr("x", cfg.left).attr("y", cfg.top)
    .attr("width", cfg.right - cfg.left).attr("height", cfg.bottom - cfg.top)
    .attr("fill", "none").attr("stroke", "#b3b3b3").attr("stroke-width", 1.1);

  // axes
  const ax = g.append("g").attr("transform", `translate(0,${cfg.bottom})`)
    .call(d3.axisBottom(x).tickValues(xTicks.filter(inX)).tickSize(3).tickPadding(2).tickFormat(d => String(d)));
  const ay = g.append("g").attr("transform", `translate(${cfg.left},0)`)
    .call(d3.axisLeft(y).tickValues(yTicks.filter(inY)).tickSize(3).tickPadding(2).tickFormat(d => String(d)));
  [ax, ay].forEach(a => {
    a.select(".domain").remove();
    a.selectAll(".tick line").attr("stroke", "#8a8a8a");
    a.selectAll(".tick text").attr("fill", "#4d4d4d").style("font-size", "9px")
      .style("font-family", '"Liberation Sans",Arial,sans-serif');
  });

  // axis titles
  g.append("text").attr("x", (cfg.left + cfg.right) / 2 + cfg.xTitleShift).attr("y", 391)
    .attr("text-anchor", "middle").style("font-size", "11px").attr("fill", "#000").text("x");
  g.append("text").attr("transform", `translate(${cfg.yTitleX},${(cfg.top + cfg.bottom) / 2}) rotate(-90)`)
    .attr("text-anchor", "middle").style("font-size", "11px").attr("fill", "#000").text("y");

  // panel title
  g.append("text").attr("x", cfg.titleX).attr("y", cfg.titleY)
    .style("font-size", "23.5px").attr("fill", "#000")
    .selectAll("tspan").data(cfg.title).join("tspan")
    .attr("x", cfg.titleX).attr("dy", (d, i) => i === 0 ? 0 : 28).text(d => d);
}

const hmcSamples = buildSamples(hmcPetals, hmcOffset);
const ptSamples = buildSamples(ptPetals, ptOffset);
const hmcMarkerPts = hmcMarker.map(([a, o]) => polarPoint(a, 0, o));

drawPanel({
  left: 31.7, right: 521.7, top: 5.7, bottom: 367.7,
  xDomain: [-20.18, 19.24], yDomain: [-17.84, 17.65],
  samples: hmcSamples, alpha: 0.45, radius: 2.4, marker: hmcMarkerPts,
  title: panelTitles[0], titleX: 38, titleY: 36,
  yTitleX: 10, xTitleShift: 0
}, 0);

drawPanel({
  left: 568.3, right: 1062, top: 5.7, bottom: 367.7,
  xDomain: [-19.9, 20.47], yDomain: [-17.53, 17.34],
  samples: ptSamples, alpha: 0.72, radius: 2.5, marker: null,
  title: panelTitles[1], titleX: 575.5, titleY: 29.3,
  yTitleX: 547, xTitleShift: -1.7
}, 1);
</script>
</body>
</html>
